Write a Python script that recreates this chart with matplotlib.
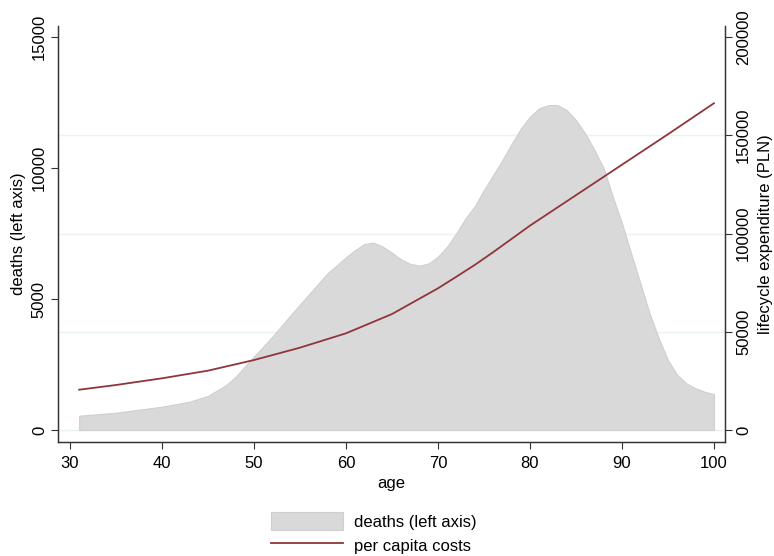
import matplotlib
matplotlib.use("Agg")
import matplotlib.pyplot as plt
from matplotlib.patches import Patch
from matplotlib.lines import Line2D

plt.rcParams["font.family"] = ["Liberation Sans", "DejaVu Sans"]

# deaths by age (left axis)
death_age = [31, 35, 40, 43, 45, 47, 48, 49, 50, 51, 52, 54, 56, 58, 60, 61, 62, 63, 64,
             65, 66, 67, 68, 69, 70, 71, 72, 73, 74, 75, 76, 77, 78, 79, 80, 81, 82, 83,
             84, 85, 86, 87, 88, 89, 90, 91, 92, 93, 94, 95, 96, 97, 98, 99, 100]
deaths = [546, 660, 890, 1080, 1300, 1720, 2030, 2420, 2810, 3180, 3560, 4390, 5190, 5980,
          6590, 6870, 7100, 7150, 7000, 6770, 6510, 6340, 6270, 6360, 6620, 7000, 7510,
          8080, 8540, 9160, 9730, 10300, 10920, 11500, 11960, 12280, 12400, 12400, 12210,
          11830, 11320, 10690, 10000, 8910, 7890, 6740, 5600, 4450, 3500, 2670, 2100,
          1780, 1590, 1460, 1370]

# per capita lifecycle costs (right axis)
cost_age = [31, 35, 40, 45, 50, 55, 60, 65, 70, 72, 74, 76, 80, 85, 90, 95, 100]
costs = [20500, 22900, 26300, 30200, 35600, 41900, 49200, 59000, 72100, 78000, 84000,
         90500, 104000, 119500, 135000, 150500, 166300]

x_ticks = [30, 40, 50, 60, 70, 80, 90, 100]
left_ticks = [0, 5000, 10000, 15000]
right_ticks = [0, 50000, 100000, 150000, 200000]
grid_vals = [0, 50000, 100000, 150000]

fill_col = "#d9d9d9"
line_col = "#90353b"
grid_col = "#eaf2f3"

fig = plt.figure(figsize=(7.74, 5.56), dpi=100)
ax = fig.add_axes([58 / 774, 1 - 442 / 556, (725 - 58) / 774, (442 - 26) / 556])
ax2 = ax.twinx()

l_lim = (-458, 15420)
r_lim = (l_lim[0] * 200000 / 15000, l_lim[1] * 200000 / 15000)
ax.set_xlim(28.7, 101.2)
ax.set_ylim(*l_lim)
ax2.set_ylim(*r_lim)

# gridlines follow the right axis but sit behind the area
for g in grid_vals:
    ax.axhline(g * 15000 / 200000, color=grid_col, lw=1, zorder=0)

ax.fill_between(death_age, 0, deaths, facecolor=fill_col, edgecolor="#cfcfcf", lw=0.8, zorder=2)
ax2.plot(cost_age, costs, color=line_col, lw=1.3)

ax.set_xticks(x_ticks)
ax.set_yticks(left_ticks)
ax2.set_yticks(right_ticks)
ax.set_yticklabels([str(v) for v in left_ticks], rotation=90, va="center")
ax2.set_yticklabels([str(v) for v in right_ticks], rotation=90, va="center")

for a in (ax, ax2):
    a.tick_params(direction="out", length=5, width=0.8, labelsize=12, pad=3, color="#333333")
    a.spines["top"].set_visible(False)
    for s in a.spines.values():
        s.set_color("#333333")
        s.set_linewidth(0.9)
ax.tick_params(axis="x", pad=5)

ax.set_xlabel("age", fontsize=12, labelpad=4)
ax.set_ylabel("deaths (left axis)", fontsize=12, labelpad=4)
ax2.set_ylabel("lifecycle expenditure (PLN)", fontsize=12, labelpad=5)

handles = [Patch(facecolor=fill_col, edgecolor="#cfcfcf", lw=0.8),
           Line2D([0], [0], color=line_col, lw=1.3)]
fig.legend(handles, ["deaths (left axis)", "per capita costs"], loc="center",
           bbox_to_anchor=(374 / 774, 1 - 533 / 556), frameon=False, fontsize=12,
           handlelength=4.3, handleheight=1.3, labelspacing=0.35, handletextpad=0.7)

fig.savefig("out.png", dpi=100)
